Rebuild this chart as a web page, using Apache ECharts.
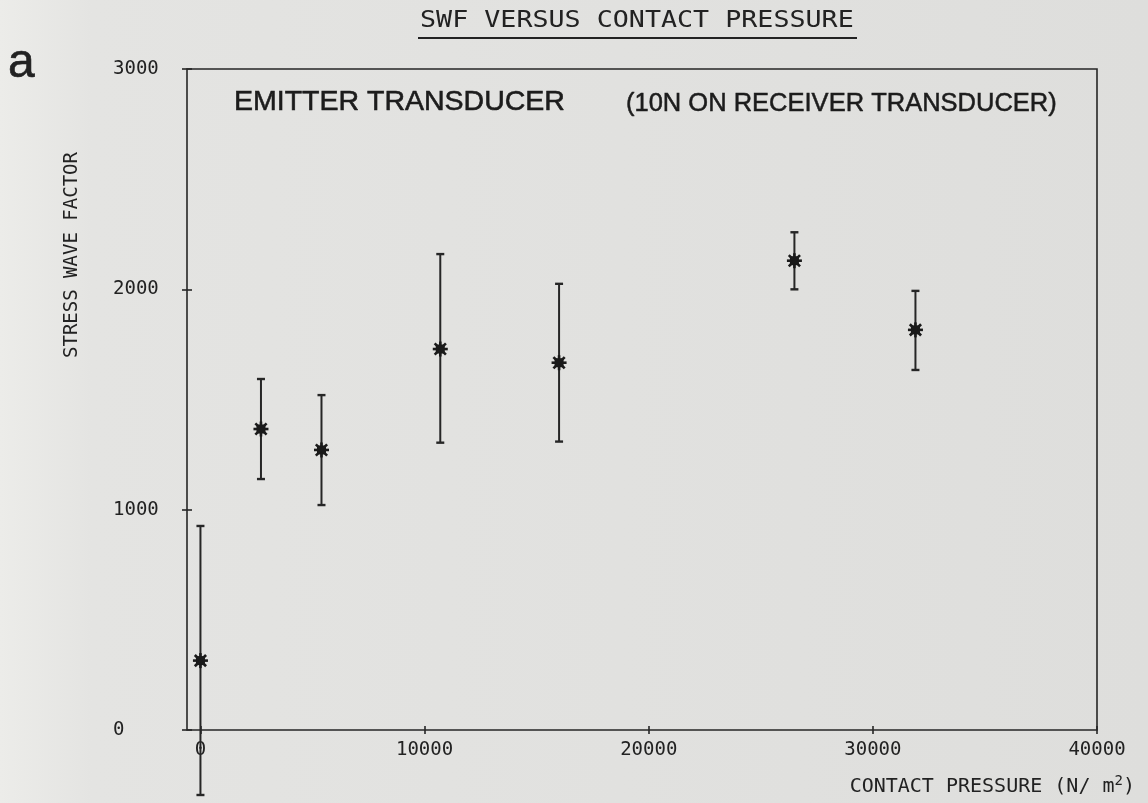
<!DOCTYPE html>
<html>
<head>
<meta charset="utf-8">
<title>SWF versus contact pressure</title>
<script src="https://cdn.jsdelivr.net/npm/echarts@6/dist/echarts.min.js"></script>
<style>
  html, body { margin: 0; padding: 0; background: #e3e3e1; }
  #chart { width: 1148px; height: 803px; }
</style>
</head>
<body>
<div id="chart"></div>
<script>
// Contact pressure (N/m^2) of each measurement set
const pressure = [0, 2700, 5400, 10700, 16000, 26500, 31900];
// Stress wave factor: mean value and the ends of each error bar
const swfMean = [315, 1366, 1271, 1729, 1667, 2130, 1816];
const swfLow  = [-295, 1139, 1021, 1304, 1309, 2000, 1634];
const swfHigh = [926, 1593, 1520, 2160, 2025, 2259, 1993];
// Axis tick values
const xTicks = [0, 10000, 20000, 30000, 40000];
const yTicks = [0, 1000, 2000, 3000];

const INK = '#262626';
const MONO = '"DejaVu Sans Mono", "Liberation Mono", monospace';
const SANS = '"Liberation Sans", Arial, sans-serif';

const points = pressure.map((p, i) => [p, swfMean[i], swfLow[i], swfHigh[i]]);

// Error bar with end caps and an asterisk marker at the mean
function renderErrorBar(params, api) {
  const x = api.value(0);
  const c = api.coord([x, api.value(1)]);
  const lo = api.coord([x, api.value(2)]);
  const hi = api.coord([x, api.value(3)]);
  const cap = 4;
  const r = 7.5;
  const d = r * 0.75;
  const lineStyle = { stroke: INK, lineWidth: 2 };
  const starStyle = { stroke: '#1a1a1a', lineWidth: 2.6 };
  return {
    type: 'group',
    children: [
      { type: 'line', shape: { x1: lo[0], y1: lo[1], x2: hi[0], y2: hi[1] }, style: lineStyle },
      { type: 'line', shape: { x1: lo[0] - cap, y1: lo[1], x2: lo[0] + cap, y2: lo[1] }, style: { stroke: INK, lineWidth: 2.4 } },
      { type: 'line', shape: { x1: hi[0] - cap, y1: hi[1], x2: hi[0] + cap, y2: hi[1] }, style: { stroke: INK, lineWidth: 2.4 } },
      { type: 'rect', shape: { x: c[0] - 4.5, y: c[1] - 4.5, width: 9, height: 9 }, style: { fill: '#1a1a1a' } },
      { type: 'line', shape: { x1: c[0] - r, y1: c[1], x2: c[0] + r, y2: c[1] }, style: starStyle },
      { type: 'line', shape: { x1: c[0], y1: c[1] - r, x2: c[0], y2: c[1] + r }, style: starStyle },
      { type: 'line', shape: { x1: c[0] - d, y1: c[1] - d, x2: c[0] + d, y2: c[1] + d }, style: starStyle },
      { type: 'line', shape: { x1: c[0] - d, y1: c[1] + d, x2: c[0] + d, y2: c[1] - d }, style: starStyle }
    ]
  };
}

const plainNumber = (v) => String(v);

const chart = echarts.init(document.getElementById('chart'), null, { renderer: 'canvas' });

const tickStyle = { color: INK, width: 1.6 };

const option = {
  backgroundColor: {
    type: 'linear', x: 0, y: 0, x2: 1, y2: 0,
    colorStops: [
      { offset: 0, color: '#ecece9' },
      { offset: 0.08, color: '#e4e4e2' },
      { offset: 1, color: '#dededc' }
    ]
  },
  animation: false,
  grid: {
    left: 187, right: 51, top: 69, bottom: 73,
    show: true, borderColor: INK, borderWidth: 1.6, backgroundColor: 'transparent'
  },
  xAxis: [
    {
      type: 'value', min: -600, max: 40000,
      splitLine: { show: false },
      axisLine: { show: false, onZero: false },
      axisTick: { show: true, customValues: xTicks, length: 4, inside: false, lineStyle: tickStyle },
      axisLabel: {
        show: true, customValues: xTicks, margin: 11, formatter: plainNumber,
        color: '#222', fontFamily: MONO, fontSize: 19
      },
      name: '{t|CONTACT PRESSURE (N/ m}{s|2}{t|)}',
      nameLocation: 'end',
      nameGap: 38,
      nameTextStyle: {
        align: 'right', verticalAlign: 'top', padding: [44, 0, 0, 0],
        rich: {
          t: { color: '#222', fontFamily: MONO, fontSize: 20, lineHeight: 26 },
          s: { color: '#222', fontFamily: MONO, fontSize: 14, lineHeight: 14, verticalAlign: 'top' }
        }
      }
    },
    {
      type: 'value', min: -600, max: 40000, position: 'bottom',
      splitLine: { show: false },
      axisLine: { show: false, onZero: false },
      axisTick: { show: true, customValues: xTicks, length: 4, inside: true, lineStyle: tickStyle },
      axisLabel: { show: false }
    }
  ],
  yAxis: [
    {
      type: 'value', min: 0, max: 3000, interval: 1000,
      splitLine: { show: false },
      axisLine: { show: false, onZero: false },
      axisTick: { show: true, customValues: yTicks, length: 5, inside: false, lineStyle: tickStyle },
      axisLabel: {
        show: true, customValues: yTicks, margin: 74, align: 'left', formatter: plainNumber,
        color: '#222', fontFamily: MONO, fontSize: 19
      }
    },
    {
      type: 'value', min: 0, max: 3000, interval: 1000, position: 'left',
      splitLine: { show: false },
      axisLine: { show: false, onZero: false },
      axisTick: { show: true, customValues: yTicks, length: 5, inside: true, lineStyle: tickStyle },
      axisLabel: { show: false }
    }
  ],
  graphic: [
    {
      type: 'text', x: 420, y: 21.5, scaleX: 1.16,
      style: { text: 'SWF VERSUS CONTACT PRESSURE', fill: '#222', font: '23px ' + MONO, align: 'left', verticalAlign: 'middle' }
    },
    {
      type: 'line', shape: { x1: 418, y1: 38, x2: 857, y2: 38 },
      style: { stroke: '#222', lineWidth: 2 }
    },
    {
      type: 'text', x: 8, y: 64,
      style: { text: 'a', fill: '#222', font: '48px ' + SANS, align: 'left', verticalAlign: 'middle', stroke: '#222', lineWidth: 0.6 }
    },
    {
      type: 'text', x: 72, y: 255, rotation: Math.PI / 2,
      style: { text: 'STRESS WAVE FACTOR', fill: '#222', font: '19px ' + MONO, align: 'center', verticalAlign: 'middle' }
    },
    {
      type: 'text', x: 234, y: 102,
      style: { text: 'EMITTER TRANSDUCER', fill: '#1c1c1c', font: '28.5px ' + SANS, align: 'left', verticalAlign: 'middle', stroke: '#1c1c1c', lineWidth: 0.6 }
    },
    {
      type: 'text', x: 626, y: 104,
      style: { text: '(10N ON RECEIVER TRANSDUCER)', fill: '#1c1c1c', font: '25.5px ' + SANS, align: 'left', verticalAlign: 'middle', stroke: '#1c1c1c', lineWidth: 0.5 }
    }
  ],
  series: [
    {
      type: 'custom',
      name: 'SWF',
      xAxisIndex: 0,
      yAxisIndex: 0,
      clip: false,
      renderItem: renderErrorBar,
      encode: { x: 0, y: [1, 2, 3] },
      data: points
    }
  ]
};

chart.setOption(option);
</script>
</body>
</html>
